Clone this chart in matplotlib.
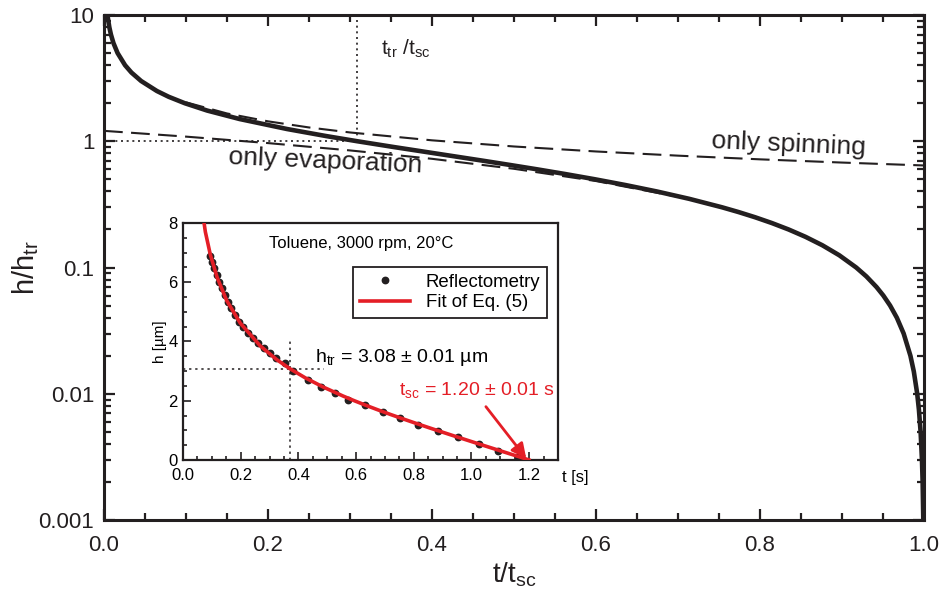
import numpy as np
import matplotlib
matplotlib.use('Agg')
import matplotlib.pyplot as plt
from matplotlib.ticker import MultipleLocator, LogLocator, NullFormatter

plt.rcParams['font.family'] = ['Liberation Sans', 'DejaVu Sans']
plt.rcParams['mathtext.default'] = 'regular'
BLACK = '#231f20'
RED = '#e41e26'

# reduced film thickness h/h_tr against reduced time t/t_sc
tau = [0.00287, 0.00413, 0.00646, 0.00843, 0.01147, 0.01649, 0.02568, 0.03344,
       0.04527, 0.06449, 0.07887, 0.09858, 0.12579, 0.1653, 0.22316, 0.27066,
       0.30892, 0.35337, 0.40472, 0.46288, 0.49444, 0.52773, 0.56246, 0.59858,
       0.63591, 0.67431, 0.71358, 0.75355, 0.77375, 0.79405, 0.81445, 0.83493,
       0.85547, 0.87606, 0.89668, 0.91732, 0.92972, 0.94211, 0.95038, 0.95865,
       0.96692, 0.97519, 0.98346, 0.98760, 0.99173, 0.99380, 0.99587, 0.99752,
       0.99835, 0.99917]
h_red = [12.0, 10.0, 8.0, 7.0, 6.0, 5.0, 4.0, 3.5,
         3.0, 2.5, 2.25, 2.0, 1.75, 1.5, 1.25, 1.1,
         1.0, 0.9, 0.8, 0.7, 0.65, 0.6, 0.55, 0.5,
         0.45, 0.4, 0.35, 0.3, 0.275, 0.25, 0.225, 0.2,
         0.175, 0.15, 0.125, 0.1, 0.085, 0.07, 0.06, 0.05,
         0.04, 0.03, 0.02, 0.015, 0.01, 0.0075, 0.005, 0.003,
         0.002, 0.001]

# limiting cases
tau_spin = [0.1, 0.15, 0.2, 0.25, 0.3, 0.4, 0.5, 0.6, 0.7, 0.8, 0.9, 1.0]
h_spin = [2.033, 1.660, 1.438, 1.286, 1.174, 1.017, 0.909, 0.830, 0.769, 0.719, 0.678, 0.643]
tau_evap = [0.0, 0.1, 0.2, 0.3, 0.4, 0.5, 0.6, 0.7]
h_evap = [1.209, 1.088, 0.967, 0.846, 0.726, 0.605, 0.484, 0.363]

tau_tr = 0.309

# inset: reflectometry of toluene at 3000 rpm
t_meas = [0.093, 0.099, 0.107, 0.117, 0.126, 0.134, 0.145, 0.157, 0.168, 0.180,
          0.195, 0.209, 0.226, 0.243, 0.261, 0.280, 0.301, 0.324, 0.353, 0.382,
          0.434, 0.480, 0.526, 0.572, 0.630, 0.693, 0.751, 0.814, 0.885, 0.953,
          1.026, 1.093, 1.160]
h_meas = [6.87, 6.70, 6.48, 6.25, 6.02, 5.80, 5.57, 5.35, 5.12, 4.90,
          4.67, 4.48, 4.28, 4.11, 3.94, 3.77, 3.60, 3.44, 3.27, 3.02,
          2.70, 2.48, 2.25, 2.03, 1.86, 1.63, 1.41, 1.18, 0.97, 0.76,
          0.53, 0.31, 0.11]
h_tr = 3.08
t_sc = 1.20
t_tr = tau_tr * t_sc

fig = plt.figure(figsize=(9.44, 6.05), dpi=100)
ax = fig.add_axes([0.1102, 0.1405, 0.8686, 0.8347])

ax.plot(tau, h_red, color=BLACK, lw=3.3, zorder=4)
ax.plot(tau_spin, h_spin, color=BLACK, lw=1.5, dashes=(9, 4), zorder=3)
ax.plot(tau_evap, h_evap, color=BLACK, lw=1.5, dashes=(9, 4), zorder=3)
ax.plot([0, tau_tr], [1, 1], color=BLACK, lw=1.2, ls=(0, (1.2, 2.2)))
ax.plot([tau_tr, tau_tr], [1, 10], color=BLACK, lw=1.2, ls=(0, (1.2, 2.2)))

ax.set_yscale('log')
ax.set_xlim(0, 1)
ax.set_ylim(0.001, 10)
ax.set_xticks([0, 0.2, 0.4, 0.6, 0.8, 1.0])
ax.set_xticklabels(['0.0', '0.2', '0.4', '0.6', '0.8', '1.0'])
ax.xaxis.set_minor_locator(MultipleLocator(0.05))
ax.set_yticks([0.001, 0.01, 0.1, 1, 10])
ax.set_yticklabels(['0.001', '0.01', '0.1', '1', '10'])
ax.yaxis.set_minor_locator(LogLocator(base=10, subs=np.arange(2, 10)))
ax.yaxis.set_minor_formatter(NullFormatter())
ax.tick_params(which='both', direction='in', top=True, right=True, width=1.6,
               color=BLACK, labelsize=16, labelcolor=BLACK)
ax.tick_params(which='major', length=8)
ax.tick_params(which='minor', length=5)
ax.tick_params(axis='x', pad=11)
ax.tick_params(axis='y', pad=7)
for sp in ax.spines.values():
    sp.set_linewidth(2.2)
    sp.set_color(BLACK)

ax.set_xlabel('t/t$_{sc}$', fontsize=20, color=BLACK, labelpad=3)
ax.set_ylabel('h/h$_{tr}$', fontsize=21, color=BLACK)
ax.yaxis.set_label_coords(-0.077, 0.5)

ax.text(0.338, 5.4, 't$_{tr}$ /t$_{sc}$', fontsize=15, color=BLACK,
        ha='left', va='center')
ax.text(0.835, 0.95, 'only spinning', fontsize=19, color=BLACK, rotation=-2.5,
        ha='center', va='center')
ax.text(0.27, 0.70, 'only evaporation', fontsize=19, color=BLACK, rotation=-2.5,
        ha='center', va='center')

# inset
ins = fig.add_axes([0.1939, 0.2397, 0.3972, 0.3917])
ins.plot(t_meas, h_meas, 'o', color=BLACK, ms=4.6, ls='none', label='Reflectometry', zorder=3)
ins.plot(np.array(tau) * t_sc, np.array(h_red) * h_tr, color=RED, lw=2.6,
         label='Fit of Eq. (5)', zorder=4)
ins.plot([0, 0.49], [h_tr, h_tr], color=BLACK, lw=1.1, ls=(0, (1.5, 2.5)), zorder=2)
ins.plot([t_tr, t_tr], [0, 4.0], color=BLACK, lw=1.1, ls=(0, (1.5, 2.5)), zorder=2)
ins.set_xlim(0, 1.3)
ins.set_ylim(0, 8)
ins.set_xticks([0, 0.2, 0.4, 0.6, 0.8, 1.0, 1.2])
ins.set_xticklabels(['0.0', '0.2', '0.4', '0.6', '0.8', '1.0', '1.2'])
ins.xaxis.set_minor_locator(MultipleLocator(0.05))
ins.set_yticks([0, 2, 4, 6, 8])
ins.yaxis.set_minor_locator(MultipleLocator(0.5))
ins.tick_params(which='both', direction='in', width=1.2, color=BLACK, labelsize=12)
ins.tick_params(which='major', length=6)
ins.tick_params(which='minor', length=3)
ins.tick_params(axis='x', pad=6)
ins.tick_params(axis='y', pad=4)
for sp in ins.spines.values():
    sp.set_linewidth(1.6)
    sp.set_color(BLACK)
ins.set_ylabel('h [µm]', fontsize=11, labelpad=1)
ins.text(1.36, -0.076, 't [s]', fontsize=12, ha='center', va='center',
         transform=ins.get_xaxis_transform())

ins.text(0.616, 7.30, 'Toluene, 3000 rpm, 20°C', fontsize=12, ha='center', va='center')
ins.text(0.457, 3.32, 'h$_{tr}$ = 3.08 ± 0.01 µm', fontsize=14, ha='left', va='baseline')
ins.text(0.749, 2.20, 't$_{sc}$ = 1.20 ± 0.01 s', fontsize=14, color=RED,
         ha='left', va='baseline')
ins.annotate('', xy=(1.19, 0.05), xytext=(1.05, 1.8),
             arrowprops=dict(arrowstyle='-|>', color=RED, lw=2, mutation_scale=22,
                             shrinkA=0, shrinkB=0))

leg = ins.legend(loc='upper right', bbox_to_anchor=(0.971, 0.814), borderaxespad=0,
                 fontsize=13.4, frameon=True, fancybox=False, framealpha=1,
                 edgecolor=BLACK, handlelength=2.7, handletextpad=0.85,
                 labelspacing=0.2, borderpad=0.35)
leg.get_frame().set_linewidth(1.3)

fig.savefig('out.png', dpi=100)
